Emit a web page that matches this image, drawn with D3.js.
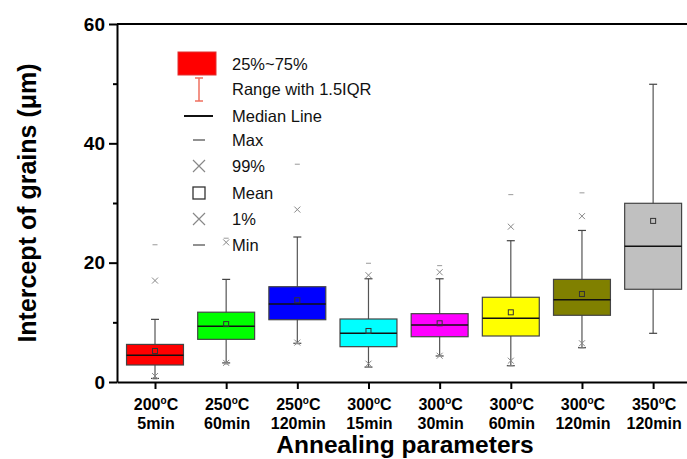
<!DOCTYPE html>
<html>
<head>
<meta charset="utf-8">
<script src="https://cdn.jsdelivr.net/npm/d3@7"></script>
<style>
  body { margin: 0; background: #fff; }
  svg { display: block; font-family: "Liberation Sans", Arial, sans-serif; }
  .axis path, .axis line { stroke: #000; }
</style>
</head>
<body>
<div id="chart"></div>
<script>
const width = 687;
const height = 459;

// Annealing conditions (temperature, time)
const temps = ["200", "250", "250", "300", "300", "300", "300", "350"];
const times = ["5min", "60min", "120min", "15min", "30min", "60min", "120min", "120min"];
const colors = ["#ff0000", "#00ff00", "#0000ff", "#00ffff", "#ff00ff", "#ffff00", "#808000", "#c0c0c0"];

// Box statistics (um); null = not visible apart from the whisker end
const q1 = [2.85, 7.15, 10.44, 5.92, 7.59, 7.71, 11.18, 15.54];
const q3 = [6.3, 11.7, 15.97, 10.56, 11.45, 14.2, 17.2, 29.95];
const median = [4.5, 9.33, 13.07, 8.16, 9.55, 10.68, 13.8, 22.74];
const whiskerLo = [0.6, 3.2, 6.49, 2.5, 4.36, 2.73, 5.75, 8.16];
const whiskerHi = [10.5, 17.2, 24.3, 17.3, 17.3, 23.68, 25.4, 49.9];
const mean = [5.2, 9.7, 13.7, 8.55, 9.84, 11.68, 14.75, 27.0];
const p99 = [17.0, 23.4, 28.9, 17.9, 18.4, 26.03, 27.8, null];
const maxv = [23.0, 24.1, 36.5, 19.9, 19.5, 31.4, 31.7, null];
const p1 = [1.0, 3.2, 6.6, 3.07, 4.4, 3.57, 6.49, null];
const minv = [0.5, 3.0, 6.4, 2.5, 4.3, 2.7, 5.7, null];

const yMajor = [0, 20, 40, 60];
const yMinor = [10, 30, 50];

const legendLabels = ["25%~75%", "Range with 1.5IQR", "Median Line", "Max", "99%", "Mean", "1%", "Min"];

const svg = d3.select("#chart").append("svg")
  .attr("width", width)
  .attr("height", height);

const x = d3.scaleLinear().domain([-0.534, 7.49]).range([117, 688]);
const y = d3.scaleLinear().domain([0, 60]).range([382, 24]);
const boxW = x(0.4) - x(-0.4);

// top frame line
svg.append("line")
  .attr("x1", x.range()[0]).attr("x2", x.range()[1])
  .attr("y1", y(60)).attr("y2", y(60))
  .attr("stroke", "#000").attr("stroke-width", 2);

const rows = temps.map((t, i) => ({
  i, q1: q1[i], q3: q3[i], med: median[i], lo: whiskerLo[i], hi: whiskerHi[i],
  mean: mean[i], p99: p99[i], max: maxv[i], p1: p1[i], min: minv[i], color: colors[i]
}));

const g = svg.append("g");

// whiskers
g.selectAll(".whisker")
  .data(rows)
  .join("line")
  .attr("x1", d => x(d.i)).attr("x2", d => x(d.i))
  .attr("y1", d => y(d.lo)).attr("y2", d => y(d.hi))
  .attr("stroke", "#555").attr("stroke-width", 1.2);

["lo", "hi"].forEach(k => {
  g.selectAll(".cap-" + k)
    .data(rows)
    .join("line")
    .attr("x1", d => x(d.i) - 4).attr("x2", d => x(d.i) + 4)
    .attr("y1", d => y(d[k])).attr("y2", d => y(d[k]))
    .attr("stroke", "#444").attr("stroke-width", 1.2);
});

// boxes
g.selectAll(".box")
  .data(rows)
  .join("rect")
  .attr("x", d => x(d.i) - boxW / 2)
  .attr("width", boxW)
  .attr("y", d => y(d.q3))
  .attr("height", d => y(d.q1) - y(d.q3))
  .attr("fill", d => d.color)
  .attr("stroke", "#444").attr("stroke-width", 1.2);

// median lines
g.selectAll(".median")
  .data(rows)
  .join("line")
  .attr("x1", d => x(d.i) - boxW / 2).attr("x2", d => x(d.i) + boxW / 2)
  .attr("y1", d => y(d.med)).attr("y2", d => y(d.med))
  .attr("stroke", "#111").attr("stroke-width", 1.5);

// mean squares
g.selectAll(".mean")
  .data(rows)
  .join("rect")
  .attr("x", d => x(d.i) - 2.5).attr("y", d => y(d.mean) - 2.5)
  .attr("width", 5).attr("height", 5)
  .attr("fill", "none").attr("stroke", "#333").attr("stroke-width", 1);

// crosses for 99% and 1%
function cross(sel, cx, cy, s, col, w) {
  sel.append("path")
    .attr("d", `M${cx - s},${cy - s}L${cx + s},${cy + s}M${cx - s},${cy + s}L${cx + s},${cy - s}`)
    .attr("stroke", col).attr("stroke-width", w).attr("fill", "none");
}
rows.forEach(d => {
  if (d.p99 != null) cross(g, x(d.i), y(d.p99), 3, "#888", 1);
  if (d.p1 != null) cross(g, x(d.i), y(d.p1), 3, "#888", 1);
});

// dashes for max and min
["max", "min"].forEach(k => {
  g.selectAll(".dash-" + k)
    .data(rows.filter(d => d[k] != null))
    .join("line")
    .attr("x1", d => x(d.i) - 2.5).attr("x2", d => x(d.i) + 2.5)
    .attr("y1", d => y(d[k])).attr("y2", d => y(d[k]))
    .attr("stroke", "#999").attr("stroke-width", 1);
});

// y axis
const yAxis = svg.append("g")
  .attr("class", "axis")
  .attr("transform", `translate(${x.range()[0]},0)`)
  .call(d3.axisLeft(y).tickValues(yMajor).tickSize(8).tickSizeOuter(0).tickPadding(4));
yAxis.select(".domain").attr("stroke-width", 2);
yAxis.selectAll(".tick line").attr("stroke-width", 2);
yAxis.selectAll(".tick text")
  .attr("font-size", 19).attr("font-weight", "bold").attr("fill", "#000")
  .attr("font-family", "Liberation Sans, Arial, sans-serif");

const yMinorAxis = svg.append("g")
  .attr("class", "axis")
  .attr("transform", `translate(${x.range()[0]},0)`)
  .call(d3.axisLeft(y).tickValues(yMinor).tickSize(4).tickSizeOuter(0).tickFormat(""));
yMinorAxis.select(".domain").remove();
yMinorAxis.selectAll(".tick line").attr("stroke-width", 2);

// x axis
const xAxis = svg.append("g")
  .attr("class", "axis")
  .attr("transform", `translate(0,${y(0)})`)
  .call(d3.axisBottom(x).tickValues(d3.range(temps.length)).tickSize(7).tickSizeOuter(0).tickFormat(""));
xAxis.select(".domain").attr("stroke-width", 2);
xAxis.selectAll(".tick line").attr("stroke-width", 2);

const xl = svg.append("g")
  .attr("font-size", 16).attr("font-weight", "bold").attr("text-anchor", "middle");
temps.forEach((t, i) => {
  const txt = xl.append("text").attr("x", x(i) + 1).attr("y", 410);
  txt.append("tspan").text(t);
  txt.append("tspan").attr("font-size", 10).attr("dy", -6).text("o");
  txt.append("tspan").attr("dy", 6).text("C");
  xl.append("text").attr("x", x(i) + 1).attr("y", 429).text(times[i]);
});

// axis titles
svg.append("text")
  .attr("x", 405).attr("y", 453)
  .attr("text-anchor", "middle")
  .attr("font-size", 24.5).attr("font-weight", "bold")
  .text("Annealing parameters");

svg.append("text")
  .attr("transform", "translate(36,203) rotate(-90)")
  .attr("text-anchor", "middle")
  .attr("font-size", 25).attr("font-weight", "bold")
  .text("Intercept of grains (\u03bcm)");

// legend
const lg = svg.append("g");
const legY = [64, 89, 116, 140, 166, 193, 219, 245];
const mx = 199;
legendLabels.forEach((lab, i) => {
  lg.append("text")
    .attr("x", 232).attr("y", legY[i])
    .attr("dy", "0.35em")
    .attr("font-size", 16.5).attr("fill", "#111")
    .text(lab);
});
lg.append("rect")
  .attr("x", 178).attr("y", legY[0] - 12).attr("width", 38).attr("height", 23)
  .attr("fill", colors[0]).attr("stroke", "#e03030");
lg.append("path")
  .attr("d", `M${mx - 4},${legY[1] - 11}H${mx + 4}M${mx},${legY[1] - 11}V${legY[1] + 12}M${mx - 4},${legY[1] + 12}H${mx + 4}`)
  .attr("stroke", "#f07060").attr("stroke-width", 1.5).attr("fill", "none");
lg.append("line")
  .attr("x1", 184).attr("x2", 213).attr("y1", legY[2]).attr("y2", legY[2])
  .attr("stroke", "#111").attr("stroke-width", 2);
[3, 7].forEach(i => {
  lg.append("line")
    .attr("x1", mx - 6).attr("x2", mx + 6).attr("y1", legY[i]).attr("y2", legY[i])
    .attr("stroke", "#555").attr("stroke-width", 1.3);
});
cross(lg, mx, legY[4], 6, "#888", 1.2);
cross(lg, mx, legY[6], 6, "#888", 1.2);
lg.append("rect")
  .attr("x", mx - 6).attr("y", legY[5] - 6).attr("width", 12).attr("height", 12)
  .attr("fill", "none").attr("stroke", "#333").attr("stroke-width", 1.3);
</script>
</body>
</html>
